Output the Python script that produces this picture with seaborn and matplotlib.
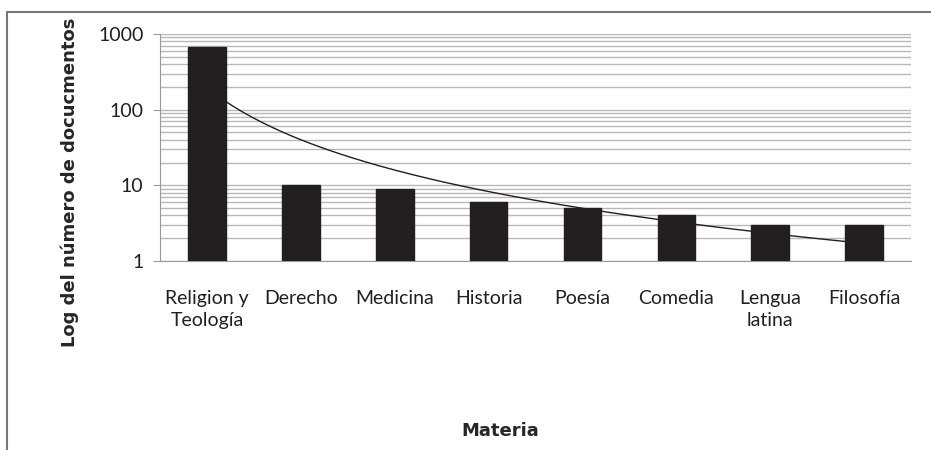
import seaborn as sns
import matplotlib.pyplot as plt
import numpy as np
import pandas as pd

# Data
materias = ['Religion y\nTeología', 'Derecho', 'Medicina', 'Historia',
            'Poesía', 'Comedia', 'Lengua\nlatina', 'Filosofía']
documentos = [680, 10, 9, 6, 5, 4, 3, 3]

df = pd.DataFrame({'materia': materias, 'docs': documentos})

sns.set_style('white')
plt.rcParams['font.family'] = ['Lato', 'DejaVu Sans']

fig = plt.figure(figsize=(9.31, 4.5), dpi=100)
ax = fig.add_axes([0.172, 0.42, 0.8065, 0.5044])

sns.barplot(x='materia', y='docs', data=df, color='#231f20', width=0.4,
            saturation=1, ax=ax, zorder=3, edgecolor='#231f20')
ax.set_yscale('log')

# power trendline (like Excel), fit on log-log
xs = np.arange(1, len(documentos) + 1)
b, lna = np.polyfit(np.log(xs), np.log(documentos), 1)
xf = np.linspace(1, len(documentos), 200)
ax.plot(xf - 1, np.exp(lna) * xf ** b, color='#231f20', lw=1, zorder=2)

ax.set_ylim(1, 1000)
ax.set_xlim(-0.5, len(materias) - 0.5)
ax.set_yticks([1, 10, 100, 1000])
ax.set_yticklabels(['1', '10', '100', '1000'])
ax.yaxis.grid(True, which='both', color='#b8b8b8', lw=1)
ax.set_axisbelow(True)
for s in ['top', 'right']:
    ax.spines[s].set_visible(False)
ax.spines['left'].set_color('#999999')
ax.spines['bottom'].set_color('#999999')
ax.tick_params(axis='y', which='major', length=5, color='#999999', left=True,
               labelsize=14, colors='#231f20', pad=7)
ax.tick_params(axis='y', which='minor', length=0)
ax.tick_params(axis='x', length=0, labelsize=14, colors='#231f20', pad=21)
for lab in ax.get_xticklabels():
    lab.set_linespacing(1.35)
ax.set_xlabel('')
ax.set_ylabel('')

fig.text(70 / 931, 1 - 182 / 450, 'Log del número de docucmentos', rotation=90,
         ha='center', va='center', fontsize=13, fontweight='bold',
         family=['DejaVu Sans'])
fig.text(500 / 931, 1 - 431 / 450, 'Materia', ha='center', va='center',
         fontsize=13, fontweight='bold', family=['DejaVu Sans'])

# chart frame (top and left edges visible)
fig.add_artist(plt.Line2D([7 / 931, 1], [1 - 12 / 450, 1 - 12 / 450],
                          color='#777777', lw=1.5))
fig.add_artist(plt.Line2D([7 / 931, 7 / 931], [0, 1 - 12 / 450],
                          color='#777777', lw=1.5))

fig.savefig('out.png', dpi=100)
